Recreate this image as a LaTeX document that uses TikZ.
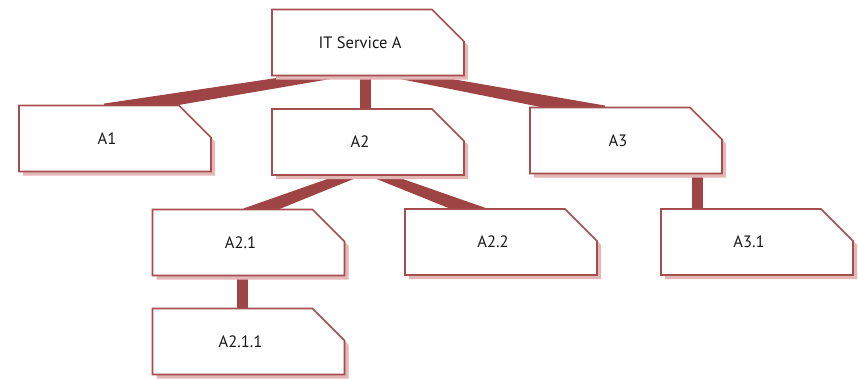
\documentclass[tikz,border=0pt]{standalone}
\usepackage{fontspec}
\setmainfont{PT Sans}
\usetikzlibrary{calc}
\pgfdeclarelayer{bg}
\pgfdeclarelayer{mid}
\pgfsetlayers{bg,mid,main}
\definecolor{edgec}{RGB}{158,68,68}
\definecolor{framec}{RGB}{165,78,78}
\definecolor{shadec}{RGB}{228,182,182}
\tikzset{
 cbox/.style={minimum width=192pt, minimum height=66pt, inner sep=0pt, outer sep=0pt, draw=none},
 txt/.style={font=\fontsize{16.5}{18}\selectfont, text=black!90, inner sep=0pt},
 vconn/.style={draw=edgec, line width=11pt},
}
\newcommand\chambox[1]{%
 \begin{pgfonlayer}{mid}
 \fill[shadec] ($(#1.north west)+(4,-4)$) -- ($(#1.north east)+(-28,-4)$) -- ($(#1.north east)+(4,-36)$) -- ($(#1.south east)+(4,-4)$) -- ($(#1.south west)+(4,-4)$) -- cycle;
 \draw[framec, line width=1.6pt, fill=white, line join=miter] (#1.north west) -- ($(#1.north east)+(-32,0)$) -- ($(#1.north east)+(0,-32)$) -- (#1.south east) -- (#1.south west) -- cycle;
 \end{pgfonlayer}}
% tapered connector from parent point #1 to child point #2
\newcommand\taperconn[2]{%
 \fill[edgec] ($(#1)!4pt!90:(#2)$) -- ($(#1)!4pt!-90:(#2)$) -- ($(#2)!7pt!90:(#1)$) -- ($(#2)!7pt!-90:(#1)$) -- cycle;}
\begin{document}
\begin{tikzpicture}[x=1pt,y=1pt]
\useasboundingbox (0,0) rectangle (858,-378);
\node[cbox, label={[txt,xshift=-8pt]center:IT Service A}] (IT) at (368,-42.5) {};
\node[cbox, label={[txt,xshift=-8pt]center:A1}] (A1) at (115,-138.5) {};
\node[cbox, label={[txt,xshift=-8pt]center:A2}] (A2) at (368,-142) {};
\node[cbox, label={[txt,xshift=-8pt]center:A3}] (A3) at (626,-140.5) {};
\node[cbox, label={[txt,xshift=-8pt]center:A2.1}] (A21) at (248.5,-242.5) {};
\node[cbox, label={[txt,xshift=-8pt]center:A2.2}] (A22) at (501,-242) {};
\node[cbox, label={[txt,xshift=-8pt]center:A3.1}] (A31) at (757,-242) {};
\node[cbox, label={[txt,xshift=-8pt]center:A2.1.1}] (A211) at (248.5,-341.5) {};
\foreach \b in {IT,A1,A2,A3,A21,A22,A31,A211} {\chambox{\b}}
\coordinate (pIT) at ($(IT.south)+(0,7)$);
\coordinate (cA1) at ($(A1.north)+(-10,-5)$);
\coordinate (cA3) at ($(A3.north)+(-22,-5)$);
\coordinate (pA2) at ($(A2.south)+(-3,5)$);
\coordinate (cA21) at ($(A21.north)+(-2.5,-5.5)$);
\coordinate (cA22) at ($(A22.north)+(-16.5,-6)$);
\begin{pgfonlayer}{bg}
\taperconn{pIT}{cA1}
\taperconn{pIT}{cA3}
\draw[vconn] ($(IT.south)+(-2.5,5)$) -- ($(A2.north)+(-2.5,-5)$);
\taperconn{pA2}{cA21}
\taperconn{pA2}{cA22}
\draw[vconn] ($(A21.south)+(-6,5)$) -- ($(A211.north)+(-6,-5)$);
\draw[vconn] ($(A3.south)+(71.5,5)$) -- ($(A31.north)+(-59.5,-5)$);
\end{pgfonlayer}
\end{tikzpicture}
\end{document}
